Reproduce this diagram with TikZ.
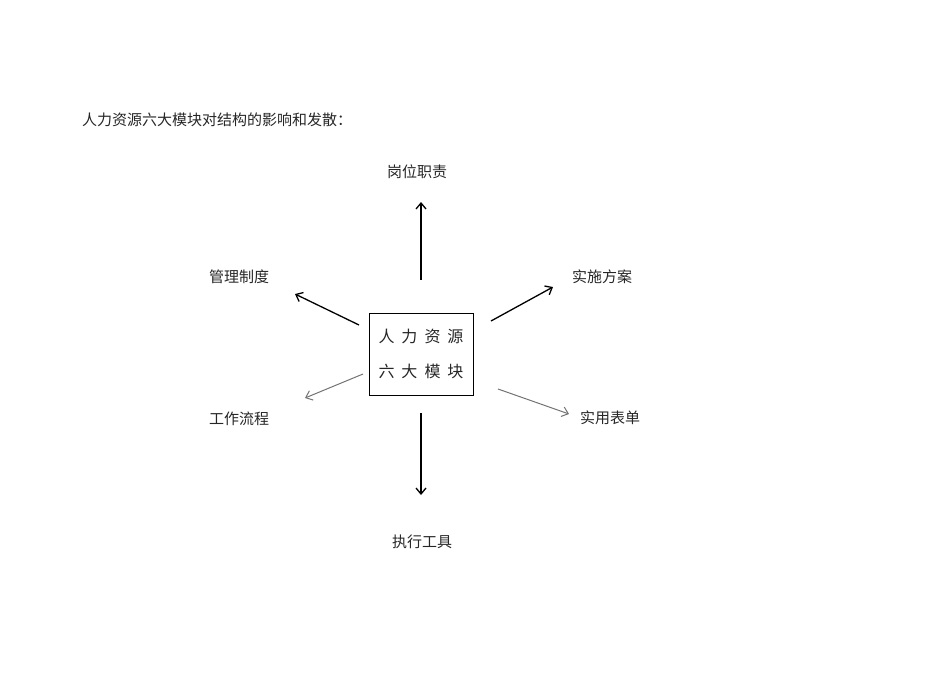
\documentclass[tikz,border=0pt]{standalone}
\usepackage{fontspec}
\newfontfamily\cjk{Noto Sans CJK SC}
\usetikzlibrary{arrows.meta}
\begin{document}
\begin{tikzpicture}[x=1pt,y=-1pt,
  lbl/.style={font=\cjk\fontsize{15}{18}\selectfont, inner sep=0pt, text=black!85},
  arr/.style={-{Straight Barb[length=6pt,width=10pt]}, line width=1.3pt, black},
  garr/.style={-{Straight Barb[length=6pt,width=10pt]}, line width=1pt, black!55}]
\useasboundingbox (0,0) rectangle (950,672);
\node[lbl, anchor=west] (title) at (82,120) {人力资源六大模块对结构的影响和发散：};
\node[draw, line width=0.8pt, minimum width=104pt, minimum height=82pt, inner sep=0pt] (box) at (421,354) {};
\node[font=\cjk\fontsize{16}{18}\selectfont, inner sep=0pt, text=black!85] (r1) at (421,336) {人\hspace{7pt}力\hspace{7pt}资\hspace{7pt}源};
\node[font=\cjk\fontsize{16}{18}\selectfont, inner sep=0pt, text=black!85] (r2) at (421,371) {六\hspace{7pt}大\hspace{7pt}模\hspace{7pt}块};
\node[lbl] (gw) at (417,172) {岗位职责};
\node[lbl] (gl) at (239,277) {管理制度};
\node[lbl] (ss) at (602,277) {实施方案};
\node[lbl] (gz) at (239,419) {工作流程};
\node[lbl] (sy) at (610,418) {实用表单};
\node[lbl] (zx) at (422,542) {执行工具};
\coordinate (a1) at (421,280); \coordinate (b1) at (421,202);
\coordinate (a2) at (421,413); \coordinate (b2) at (421,495);
\coordinate (a3) at (359,325); \coordinate (b3) at (295,294);
\coordinate (a4) at (491,321); \coordinate (b4) at (553,287);
\coordinate (a5) at (363,374); \coordinate (b5) at (305,398);
\coordinate (a6) at (498,389); \coordinate (b6) at (569,414);
\draw[arr] (a1) -- (b1);
\draw[arr] (a2) -- (b2);
\draw[arr] (a3) -- (b3);
\draw[arr] (a4) -- (b4);
\draw[garr] (a5) -- (b5);
\draw[garr] (a6) -- (b6);
\end{tikzpicture}
\end{document}
